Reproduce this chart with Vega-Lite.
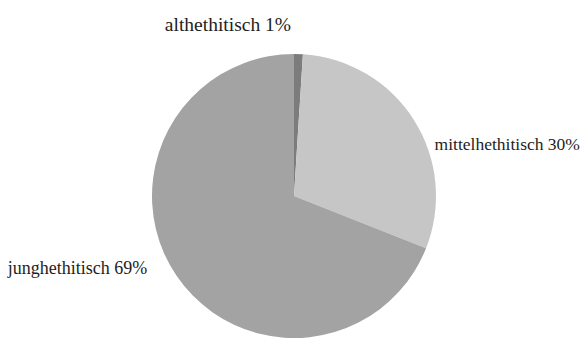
{
  "$schema": "https://vega.github.io/schema/vega-lite/v6.json",
  "width": 284,
  "height": 284,
  "autosize": {"type": "none"},
  "padding": {"left": 152, "top": 54, "right": 148, "bottom": 2},
  "background": "white",
  "config": {"view": {"stroke": null}},
  "data": {
    "values": [
      {"name": "althethitisch", "share": 1, "rank": 1, "label": "althethitisch 1%"},
      {"name": "mittelhethitisch", "share": 30, "rank": 2, "label": "mittelhethitisch 30%"},
      {"name": "junghethitisch", "share": 69, "rank": 3, "label": "junghethitisch 69%"}
    ]
  },
  "encoding": {
    "theta": {"field": "share", "type": "quantitative", "stack": true},
    "order": {"field": "rank", "type": "quantitative"}
  },
  "layer": [
    {
      "mark": {"type": "arc", "outerRadius": 142},
      "encoding": {
        "color": {
          "field": "name",
          "type": "nominal",
          "scale": {
            "domain": ["althethitisch", "mittelhethitisch", "junghethitisch"],
            "range": ["#7c7c7c", "#c6c6c6", "#a3a3a3"]
          },
          "legend": null
        }
      }
    },
    {
      "mark": {"type": "text", "radius": 176, "align": "right", "baseline": "alphabetic", "dx": -8.5, "dy": 11, "font": "Liberation Serif", "fontSize": 19.5, "color": "#1e1e1e"},
      "encoding": {
        "text": {"condition": {"test": "datum.name === 'althethitisch'", "field": "label"}, "value": ""}
      }
    },
    {
      "mark": {"type": "text", "radius": 160, "align": "left", "baseline": "alphabetic", "dx": 5.5, "dy": 40, "font": "Liberation Serif", "fontSize": 17.5, "color": "#1e1e1e"},
      "encoding": {
        "text": {"condition": {"test": "datum.name === 'mittelhethitisch'", "field": "label"}, "value": ""}
      }
    },
    {
      "mark": {"type": "text", "radius": 160, "align": "right", "baseline": "alphabetic", "dx": -14.5, "dy": -12, "font": "Liberation Serif", "fontSize": 18, "color": "#1e1e1e"},
      "encoding": {
        "text": {"condition": {"test": "datum.name === 'junghethitisch'", "field": "label"}, "value": ""}
      }
    }
  ]
}
